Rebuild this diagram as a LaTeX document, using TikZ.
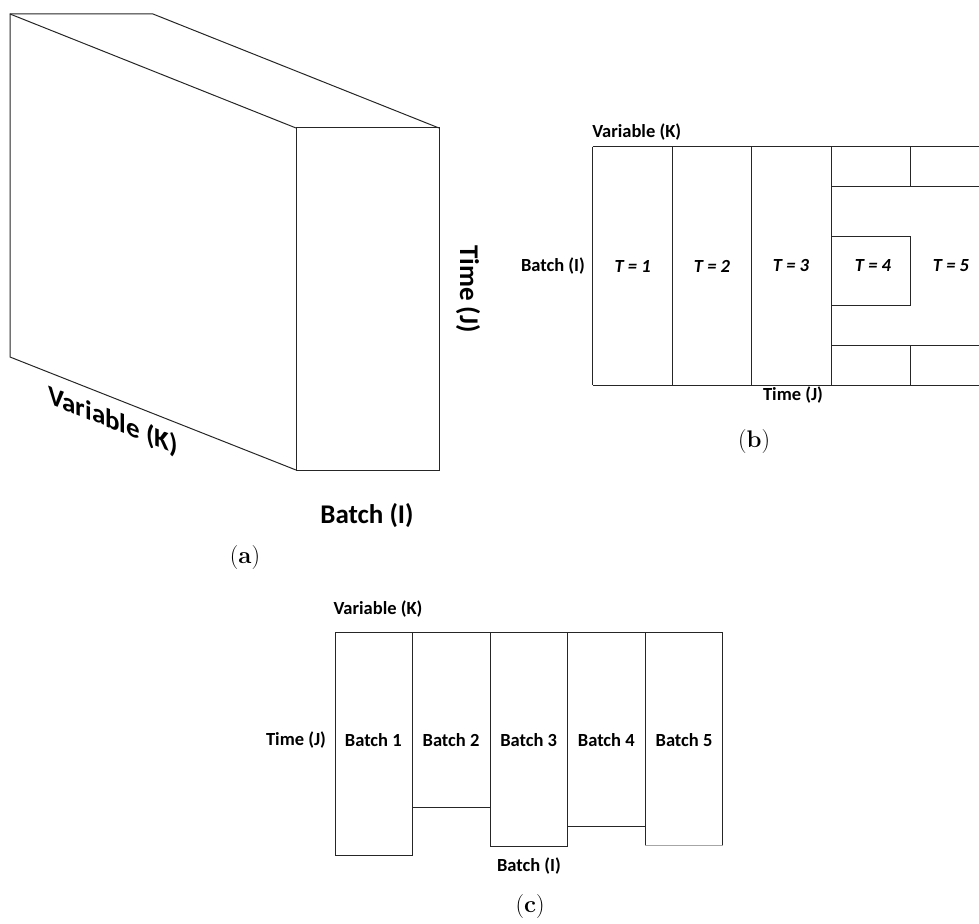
\documentclass[tikz,border=0pt]{standalone}
\usepackage{fontspec}
\newfontfamily\labfont{Carlito}[BoldFont={Carlito Bold},BoldItalicFont={Carlito Bold Italic}]
\begin{document}
\begin{tikzpicture}[x=1pt,y=-1pt,
  edge/.style={line width=1pt,draw=black!85},
  cubelab/.style={font=\fontsize{27}{30}\selectfont\labfont\bfseries,inner sep=0pt},
  lab/.style={font=\fontsize{18.5}{22}\selectfont\labfont\bfseries,inner sep=0pt},
  tlab/.style={font=\fontsize{18.5}{22}\selectfont\labfont\bfseries\itshape,inner sep=0pt},
  captext/.style={font=\fontsize{24}{28}\selectfont,inner sep=0pt}]
\useasboundingbox (0,0) rectangle (979,923);

% ---------- (a) data cube ----------
\coordinate (bTL) at (10,14);
\coordinate (bTR) at (153,14);
\coordinate (bBL) at (10,357);
\coordinate (fTL) at (296,128);
\coordinate (fTR) at (439,128);
\coordinate (fBL) at (296,470);
\coordinate (fBR) at (439,470);
\draw[edge] (bTR) -- (bTL) -- (bBL) -- (fBL);
\draw[edge] (bTL) -- (fTL);
\draw[edge] (bTR) -- (fTR);
\draw[edge] (fTL) rectangle (fBR);
\node[cubelab,rotate=-90] (aTime) at (468,289) {Time (J)};
\node[cubelab,yslant=-0.396] (aVar) at (113,421) {Variable (K)};
\node[cubelab] (aBatch) at (367,516) {Batch (I)};
\node[captext] (capA) at (245,558) {(\textbf{a})};

% ---------- (b) time-wise unfolding ----------
\begin{scope}
\clip (560,100) rectangle (979,400);
\draw[edge] (592.7,146.7) -- (990,146.7);
\draw[edge] (592.7,385) -- (990,385);
\draw[edge] (592.7,146.7) -- (592.7,385);
\draw[edge] (672.3,146.7) -- (672.3,385);
\draw[edge] (751.7,146.7) -- (751.7,385);
\draw[edge] (831,146.7) -- (831,385);
\draw[edge] (831,186.7) -- (990,186.7);
\draw[edge] (831,345.7) -- (990,345.7);
\draw[edge] (910.3,146.7) -- (910.3,186.7);
\draw[edge] (910.3,345.7) -- (910.3,385);
\draw[edge] (831,236) -- (910.3,236) -- (910.3,305.7) -- (831,305.7);
\end{scope}
\node[lab] (bVar) at (636.7,132) {Variable (K)};
\node[lab] (bBatch) at (553,266) {Batch (I)};
\node[lab] (bTime) at (793,395) {Time (J)};
\node[tlab] (t1) at (632.7,266) {T = 1};
\node[tlab] (t2) at (712,266) {T = 2};
\node[tlab] (t3) at (791,266) {T = 3};
\node[tlab] (t4) at (873,266) {T = 4};
\node[tlab] (t5) at (951,266) {T = 5};
\node[captext] (capB) at (754,442) {(\textbf{b})};

% ---------- (c) batch-wise unfolding ----------
\draw[edge] (335.3,632.7) -- (722.7,632.7);
\draw[edge] (335.3,632.7) -- (335.3,855.7) -- (412.7,855.7) -- (412.7,632.7);
\draw[edge] (412.7,807.3) -- (490,807.3);
\draw[edge] (490,632.7) -- (490,846) -- (567.7,846) -- (567.7,632.7);
\draw[edge] (567.7,826.7) -- (645.3,826.7);
\draw[edge] (645.3,632.7) -- (645.3,845.3);
\draw[edge,draw=black!35] (645.3,845.3) -- (722.7,845.3);
\draw[edge] (722.7,632.7) -- (722.7,845.3);
\node[lab] (cVar) at (378,609) {Variable (K)};
\node[lab] (cTime) at (296,740) {Time (J)};
\node[lab] (c1) at (373.3,740) {Batch 1};
\node[lab] (c2) at (451,740) {Batch 2};
\node[lab] (c3) at (528.7,740) {Batch 3};
\node[lab] (c4) at (606.3,740) {Batch 4};
\node[lab] (c5) at (684,740) {Batch 5};
\node[lab] (cBatch) at (529,866) {Batch (I)};
\node[captext] (capC) at (530,906) {(\textbf{c})};
\end{tikzpicture}
\end{document}
